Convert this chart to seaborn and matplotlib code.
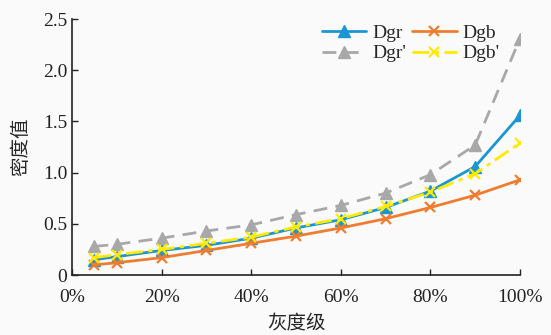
import numpy as np
import pandas as pd
import matplotlib
matplotlib.use("Agg")
import matplotlib.pyplot as plt
import seaborn as sns

# gray level (%) and density values
gray = [5, 10, 20, 30, 40, 50, 60, 70, 80, 90, 100]
dgr = [0.15, 0.18, 0.24, 0.29, 0.36, 0.46, 0.54, 0.66, 0.82, 1.06, 1.56]
dgb = [0.10, 0.12, 0.17, 0.24, 0.31, 0.38, 0.46, 0.55, 0.66, 0.78, 0.93]
dgr_p = [0.28, 0.30, 0.36, 0.43, 0.49, 0.59, 0.68, 0.80, 0.98, 1.27, 2.31]
dgb_p = [0.17, 0.20, 0.25, 0.31, 0.37, 0.47, 0.55, 0.67, 0.81, 0.99, 1.29]
xticks = [0, 20, 40, 60, 80, 100]
xticklabels = ["0%", "20%", "40%", "60%", "80%", "100%"]
yticks = [0, 0.5, 1.0, 1.5, 2.0, 2.5]
yticklabels = ["0", "0.5", "1.0", "1.5", "2.0", "2.5"]

sns.set_style("ticks")
plt.rcParams["font.family"] = ["Liberation Serif", "Noto Sans CJK SC"]

bg = "#fafafa"
fig = plt.figure(figsize=(5.51, 3.35), dpi=100, facecolor=bg)
ax = fig.add_axes([0.1307, 0.179, 0.813, 0.764])
ax.set_facecolor(bg)

# (values, label, colour, marker, dash pattern); order gives Dgr/Dgb on row 1 of the legend
series = [
    (dgr, "Dgr", "#1b95d3", "^", None),
    (dgr_p, "Dgr'", "#a8a8a8", "^", [5, 3]),
    (dgb, "Dgb", "#ef7d2f", "x", None),
    (dgb_p, "Dgb'", "#ffea00", "x", [6, 2, 1.5, 2]),
]
for vals, lab, col, mk, dash in series:
    if mk == "^":
        sns.lineplot(x=gray, y=vals, ax=ax, color=col, lw=2, marker=mk,
                     markersize=8, markeredgecolor=col, markeredgewidth=1,
                     markerfacecolor=col, label=lab)
    else:
        sns.lineplot(x=gray, y=vals, ax=ax, color=col, lw=2, marker=mk,
                     markersize=7, markeredgecolor=col, markeredgewidth=1.6,
                     label=lab)
    if dash:
        ax.lines[-1].set_dashes(dash)

ax.set_xlim(0, 100)
ax.set_ylim(0, 2.5)
ax.set_xticks(xticks)
ax.set_xticklabels(xticklabels)
ax.set_yticks(yticks)
ax.set_yticklabels(yticklabels)
ax.tick_params(direction="in", length=4, width=1, labelsize=14, colors="#222222")
ax.tick_params(axis="x", pad=10)
for s in ["top", "right"]:
    ax.spines[s].set_visible(False)
for s in ["left", "bottom"]:
    ax.spines[s].set_linewidth(1.2)
    ax.spines[s].set_color("#222222")

ax.set_xlabel("灰度级", fontsize=14, family="Noto Sans CJK SC", labelpad=5)
ax.set_ylabel("密度值", fontsize=14, family="Noto Sans CJK SC", labelpad=8)

h, l = ax.get_legend_handles_labels()
ax.legend(h, l, ncol=2, frameon=False, fontsize=14, loc="upper left",
          bbox_to_anchor=(0.54, 1.01), handlelength=2.3, handletextpad=0.3,
          columnspacing=0.3, labelspacing=0.15, borderaxespad=0)

fig.savefig("out.png", dpi=100, facecolor=bg)
